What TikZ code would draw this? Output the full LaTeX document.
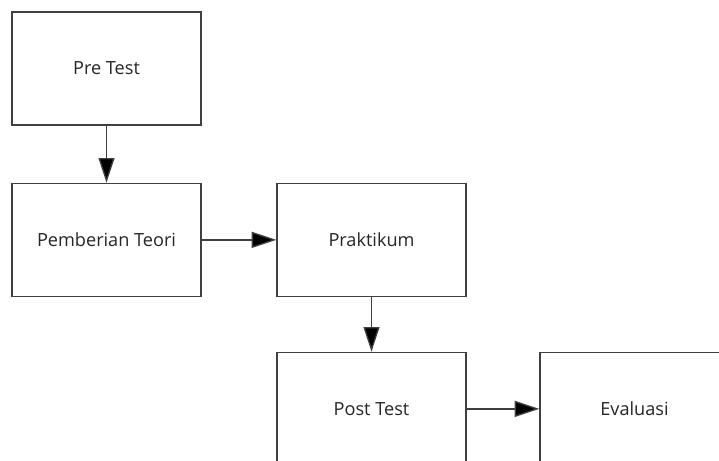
\documentclass[tikz,border=0pt]{standalone}
\usepackage{fontspec}
\setmainfont{Open Sans}
\usepackage{tikz}
\usetikzlibrary{positioning,arrows.meta}
\tikzset{%
  font=\fontsize{13.6}{16}\selectfont,
  stage/.style={draw=black!75,line width=1pt,rectangle,minimum width=141.75pt,minimum height=84.75pt,align=center,text=black!85,fill=white},
  flow/.style={draw=black!75,line width=1pt,-{Triangle[length=18.5pt,width=12pt,fill=black]}}
}

\begin{document}
\begin{tikzpicture}
	\useasboundingbox (0,0) rectangle (539.25pt,-345.75pt);
	\clip (0,0) rectangle (539.25pt,-345.75pt);
	
	\node[stage] (pre test) at (79.9pt,-51.4pt) {Pre Test};
	\node[stage,below=42.75pt of pre test] (teori) {Pemberian Teori};
	\node[stage,right=56pt of teori] (praktikum) {Praktikum};
	\node[stage,below=41pt of praktikum] (post test) {Post Test};
	\node[stage,right=54.5pt of post test] (evaluasi) {Evaluasi};
	
	\draw[flow] (pre test) -- (teori);
	\draw[flow] (teori) -- (praktikum);
	\draw[flow] (praktikum) -- (post test);
	\draw[flow] (post test) -- (evaluasi);
\end{tikzpicture}
\end{document}
